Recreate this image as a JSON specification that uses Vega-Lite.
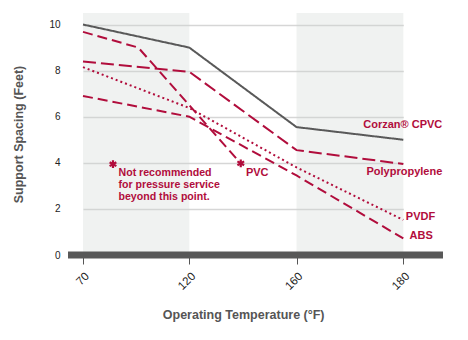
{
  "$schema": "https://vega.github.io/schema/vega-lite/v6.json",
  "width": 375,
  "height": 242,
  "autosize": "none",
  "padding": {"left": 68, "top": 13, "right": 25, "bottom": 85},
  "config": {
    "view": {"stroke": null},
    "font": "Liberation Sans",
    "axisY": {
      "domain": false, "ticks": false, "grid": true, "labelPadding": 8, "labelFontSize": 10, "labelColor": "#222",
      "gridColor": "#d6d6d6", "gridWidth": 1.5,
      "titleFontSize": 12.5, "titleFontWeight": "bold", "titleColor": "#555", "titlePadding": 23
    },
    "axisX": {
      "domain": false, "grid": false, "tickColor": "#555", "tickSize": 9, "tickWidth": 1,
      "labelAngle": -45, "labelFontSize": 11.5, "labelColor": "#222", "labelPadding": 6,
      "titleFontSize": 12.5, "titleFontWeight": "bold", "titleColor": "#555", "titlePadding": 17
    }
  },
  "datasets": {
    "series": [
      {"series": "Corzan CPVC", "x": 70, "y": 10},
      {"series": "Corzan CPVC", "x": 120, "y": 9.0},
      {"series": "Corzan CPVC", "x": 160, "y": 5.55},
      {"series": "Corzan CPVC", "x": 180, "y": 5.0},
      {"series": "Polypropylene", "x": 70, "y": 8.4},
      {"series": "Polypropylene", "x": 120, "y": 7.95},
      {"series": "Polypropylene", "x": 160, "y": 4.55},
      {"series": "Polypropylene", "x": 180, "y": 3.95},
      {"series": "PVC", "x": 70, "y": 9.68},
      {"series": "PVC", "x": 96, "y": 9.0},
      {"series": "PVC", "x": 139, "y": 4.0},
      {"series": "PVDF", "x": 70, "y": 8.15},
      {"series": "PVDF", "x": 120, "y": 6.38},
      {"series": "PVDF", "x": 160, "y": 3.8},
      {"series": "PVDF", "x": 180, "y": 1.52},
      {"series": "ABS", "x": 70, "y": 6.9},
      {"series": "ABS", "x": 120, "y": 6.0},
      {"series": "ABS", "x": 160, "y": 3.45},
      {"series": "ABS", "x": 180, "y": 0.72}
    ]
  },
  "layer": [
    {
      "data": {"values": [{"x": 70, "x2": 120}, {"x": 160, "x2": 180}]},
      "mark": {"type": "rect", "fill": "#cdd3d0", "opacity": 0.3},
      "encoding": {
        "x": {"field": "x", "type": "quantitative", "title": "Operating Temperature (°F)"},
        "x2": {"field": "x2"},
        "y": {"datum": 0, "type": "quantitative", "title": "Support Spacing (Feet)"},
        "y2": {"datum": 10.5}
      }
    },
    {
      "data": {"name": "series"},
      "mark": {"type": "line", "strokeWidth": 2},
      "encoding": {
        "x": {
          "field": "x", "type": "quantitative", "title": "Operating Temperature (°F)",
          "scale": {"type": "linear", "zero": false, "nice": false, "domain": [70, 120, 160, 180], "range": [15, 121.3, 228.5, 335.3]},
          "axis": {"values": [70, 120, 160, 180]}
        },
        "y": {
          "field": "y", "type": "quantitative", "title": "Support Spacing (Feet)",
          "scale": {"domain": [0, 10.5], "nice": false, "zero": true},
          "axis": {"values": [0, 2, 4, 6, 8, 10], "grid": true}
        },
        "color": {
          "field": "series", "type": "nominal", "legend": null,
          "scale": {"domain": ["Corzan CPVC", "Polypropylene", "PVC", "PVDF", "ABS"], "range": ["#595959", "#b10d3c", "#b10d3c", "#b10d3c", "#b10d3c"]}
        },
        "strokeDash": {
          "field": "series", "type": "nominal", "legend": null,
          "scale": {"domain": ["Corzan CPVC", "Polypropylene", "PVC", "PVDF", "ABS"], "range": [[1, 0], [13, 5], [10, 5], [2, 3], [10, 5]]}
        }
      }
    },
    {
      "data": {"values": [{"base": 0}]},
      "mark": {"type": "rule", "strokeWidth": 7, "color": "#585858"},
      "encoding": {
        "y": {"field": "base", "type": "quantitative", "title": "Support Spacing (Feet)"}
      }
    },
    {
      "data": {"values": [{"x": 84.1, "y": 3.94}, {"x": 139.2, "y": 3.98}]},
      "mark": {"type": "point", "shape": "M0,-1L0,1M-0.87,-0.5L0.87,0.5M-0.87,0.5L0.87,-0.5", "filled": false, "stroke": "#b10d3c", "strokeWidth": 2.2, "size": 60, "opacity": 1},
      "encoding": {
        "x": {"field": "x", "type": "quantitative", "title": "Operating Temperature (°F)"},
        "y": {"field": "y", "type": "quantitative", "title": "Support Spacing (Feet)"}
      }
    },
    {
      "data": {"values": [
        {"label": "Corzan® CPVC", "x": 180, "y": 5.64},
        {"label": "Polypropylene", "x": 180, "y": 3.62}
      ]},
      "mark": {"type": "text", "align": "right", "baseline": "middle", "dx": 39, "fontSize": 11, "fontWeight": "bold", "color": "#b10d3c"},
      "encoding": {
        "x": {"field": "x", "type": "quantitative", "title": "Operating Temperature (°F)"},
        "y": {"field": "y", "type": "quantitative", "title": "Support Spacing (Feet)"},
        "text": {"field": "label"}
      }
    },
    {
      "data": {"values": [
        {"label": "PVDF", "x": 180, "y": 1.63},
        {"label": "ABS", "x": 180.7, "y": 0.81},
        {"label": "PVC", "x": 140.2, "y": 3.55}
      ]},
      "mark": {"type": "text", "align": "left", "baseline": "middle", "dx": 2.5, "fontSize": 11, "fontWeight": "bold", "color": "#b10d3c"},
      "encoding": {
        "x": {"field": "x", "type": "quantitative", "title": "Operating Temperature (°F)"},
        "y": {"field": "y", "type": "quantitative", "title": "Support Spacing (Feet)"},
        "text": {"field": "label"}
      }
    },
    {
      "data": {"values": [
        {"label": "Not recommended", "x": 86.7, "y": 3.55},
        {"label": "for pressure service", "x": 86.7, "y": 3.04},
        {"label": "beyond this point.", "x": 86.7, "y": 2.53}
      ]},
      "mark": {"type": "text", "align": "left", "baseline": "middle", "fontSize": 10.6, "fontWeight": "bold", "color": "#b10d3c"},
      "encoding": {
        "x": {"field": "x", "type": "quantitative", "title": "Operating Temperature (°F)"},
        "y": {"field": "y", "type": "quantitative", "title": "Support Spacing (Feet)"},
        "text": {"field": "label"}
      }
    }
  ]
}
